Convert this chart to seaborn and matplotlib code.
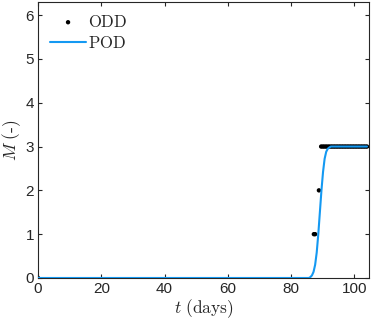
import matplotlib
matplotlib.use("Agg")
import matplotlib.pyplot as plt
import seaborn as sns
import pandas as pd

sns.set_style("ticks")
plt.rcParams['font.family'] = ['Liberation Sans', 'DejaVu Sans']
plt.rcParams['mathtext.fontset'] = 'cm'

# ODD observations
t_odd = [0, 87.2, 87.6, 88.8,
         89.5, 90, 90.5, 91, 91.5, 92, 92.5, 93, 93.5, 94, 94.5, 95, 95.5,
         96, 96.5, 97, 97.5, 98, 98.5, 99, 99.5, 100, 100.5, 101, 101.5,
         102, 102.5, 103, 103.5, 104]
m_odd = [0, 1, 1, 2,
         3, 3, 3, 3, 3, 3, 3, 3, 3, 3, 3, 3, 3,
         3, 3, 3, 3, 3, 3, 3, 3, 3, 3, 3, 3,
         3, 3, 3, 3, 3]

# POD curve
t_pod = [0, 84.6, 85.6, 86.1, 86.6, 87.1, 87.6, 88.1, 88.6, 89.1, 89.6,
         90.1, 90.6, 91.1, 91.6, 92.1, 92.6, 93.6, 104]
m_pod = [0, 0, 0.0, 0.02, 0.06, 0.14, 0.3, 0.58, 1.0, 1.5, 2.0, 2.42, 2.72,
         2.88, 2.95, 2.98, 3.0, 3.0, 3.0]

odd = pd.DataFrame({'t': t_odd, 'M': m_odd})
pod = pd.DataFrame({'t': t_pod, 'M': m_pod})

fig = plt.figure(figsize=(3.73, 3.24), dpi=100)
ax = fig.add_axes([0.102, 0.142, 0.887, 0.852])

sns.scatterplot(data=odd, x='t', y='M', ax=ax, color='black', s=10,
                edgecolor='none', label=r'$\mathrm{ODD}$', zorder=2)
sns.lineplot(data=pod, x='t', y='M', ax=ax, color='#1499f2', lw=1.5,
             label=r'$\mathrm{POD}$', zorder=3)

ax.set_xlim(0, 104.6)
ax.set_ylim(0, 6.3)
ax.set_xticks([0, 20, 40, 60, 80, 100])
ax.set_yticks([0, 1, 2, 3, 4, 5, 6])
ax.tick_params(direction='in', top=True, right=True, length=3, width=0.8,
               labelsize=11, colors='#262626', pad=3)
for sp in ax.spines.values():
    sp.set_color('#262626')
    sp.set_linewidth(0.8)

ax.set_xlabel(r'$t\ \mathrm{(days)}$', fontsize=12.5, labelpad=1)
ax.set_ylabel(r'$M\ \mathrm{(\text{-})}$', fontsize=12.5, labelpad=2)

leg = ax.legend(loc='upper left', frameon=False, fontsize=12,
                handlelength=2.2, handletextpad=0.1, borderaxespad=0.3,
                labelspacing=0.3)

fig.savefig('out.png', dpi=100)
